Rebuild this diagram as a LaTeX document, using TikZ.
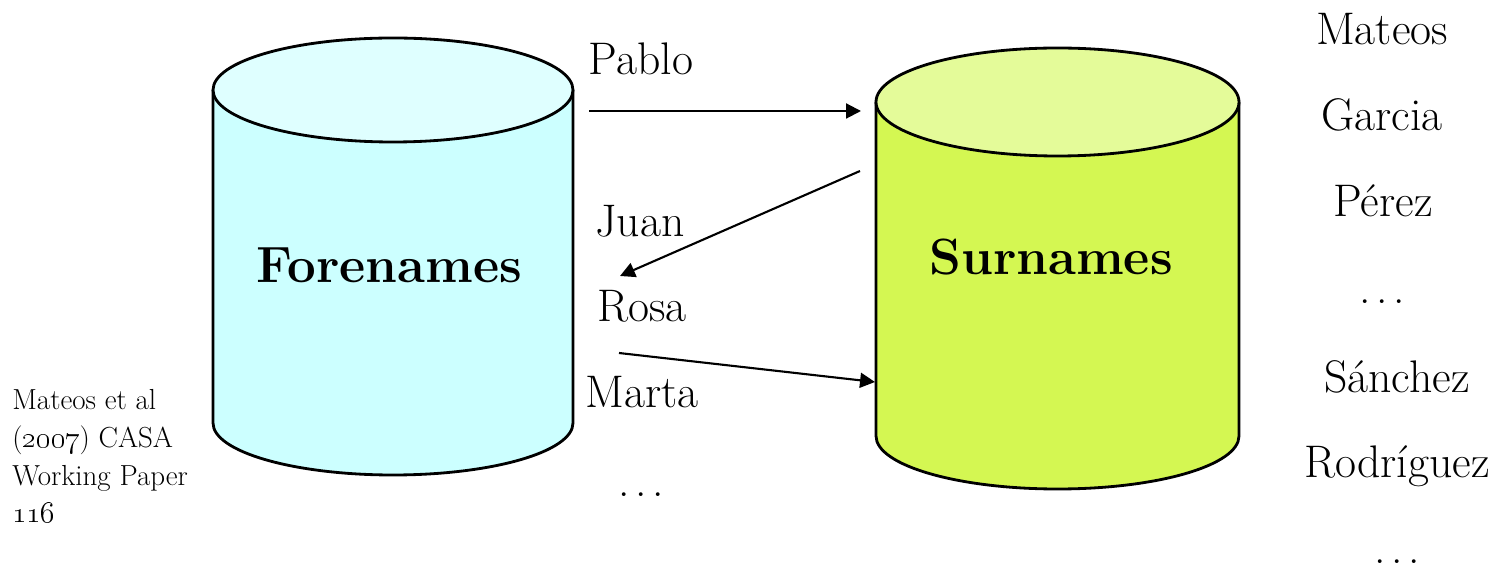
\documentclass[tikz,border=0pt]{standalone}
\usepackage{tikz}
\usetikzlibrary{positioning, arrows.meta, calc}

\definecolor{forebody}{HTML}{CCFFFF}
\definecolor{foretop}{HTML}{DFFFFF}
\definecolor{surbody}{HTML}{D4F752}
\definecolor{surtop}{HTML}{E4FB99}

\begin{document}
\begin{tikzpicture}[x=0.02cm, y=-0.02cm,
    namelbl/.style={anchor=base, inner sep=0pt, font=\fontsize{26}{30}\selectfont},
    dblbl/.style={anchor=base, inner sep=0pt, font=\fontsize{29}{34}\selectfont\bfseries},
    flow/.style={-{Triangle[length=8.5pt, width=8.5pt]}, line width=1.2pt},
    drum/.style={draw, line width=1.6pt}]
    \useasboundingbox (0,0) rectangle (1508,570);

    % forenames cylinder
    \filldraw[drum, fill=forebody] (213,90) -- (213,423)
        arc[start angle=180, end angle=0, x radius=180, y radius=52] -- (573,90);
    \filldraw[drum, fill=foretop] (393,90) ellipse[x radius=180, y radius=52];
    % surnames cylinder
    \filldraw[drum, fill=surbody] (876,102) -- (876,436)
        arc[start angle=180, end angle=0, x radius=181.5, y radius=53] -- (1239,102);
    \filldraw[drum, fill=surtop] (1057.5,102) ellipse[x radius=181.5, y radius=54];

    \node[dblbl] (fore) at (389,283) {Forenames};
    \node[dblbl] (sur) at (1051,275) {Surnames};

    % names passed between the two
    \node[namelbl] (pablo) at (641,75) {Pablo};
    \node[namelbl] (juan) at (640,237) {Juan};
    \node[namelbl] (rosa) at (642,322) {Rosa};
    \node[namelbl] (marta) at (642,408) {Marta};
    \node[namelbl] (fdots) at (641,497) {.\kern0.12em.\kern0.12em.};

    % surname list
    \node[namelbl] (mateos) at (1382,45) {Mateos};
    \node[namelbl] (garcia) at (1382,131) {Garcia};
    \node[namelbl] (perez) at (1383,217) {Pérez};
    \node[namelbl] (sdots1) at (1382,304) {.\kern0.12em.\kern0.12em.};
    \node[namelbl] (sanchez) at (1397,393) {Sánchez};
    \node[namelbl] (rodriguez) at (1397,478) {Rodríguez};
    \node[namelbl] (sdots2) at (1397,563) {.\kern0.12em.\kern0.12em.};

    \node[anchor=base west, inner sep=0pt, align=left,
        font=\fontsize{16.5}{21.5}\selectfont] (cite) at (12,523)
        {Mateos et al\\(\oldstylenums{2007}) CASA\\Working Paper\\\oldstylenums{116}};

    \coordinate (p1) at (589,111);
    \coordinate (p2) at (861,111);
    \coordinate (j1) at (860,171);
    \coordinate (j2) at (620,276);
    \coordinate (r1) at (619,353);
    \coordinate (r2) at (875,382);

    \draw
        (p1) edge[flow] (p2)
        (j1) edge[flow] (j2)
        (r1) edge[flow] (r2)
        ;
\end{tikzpicture}
\end{document}
